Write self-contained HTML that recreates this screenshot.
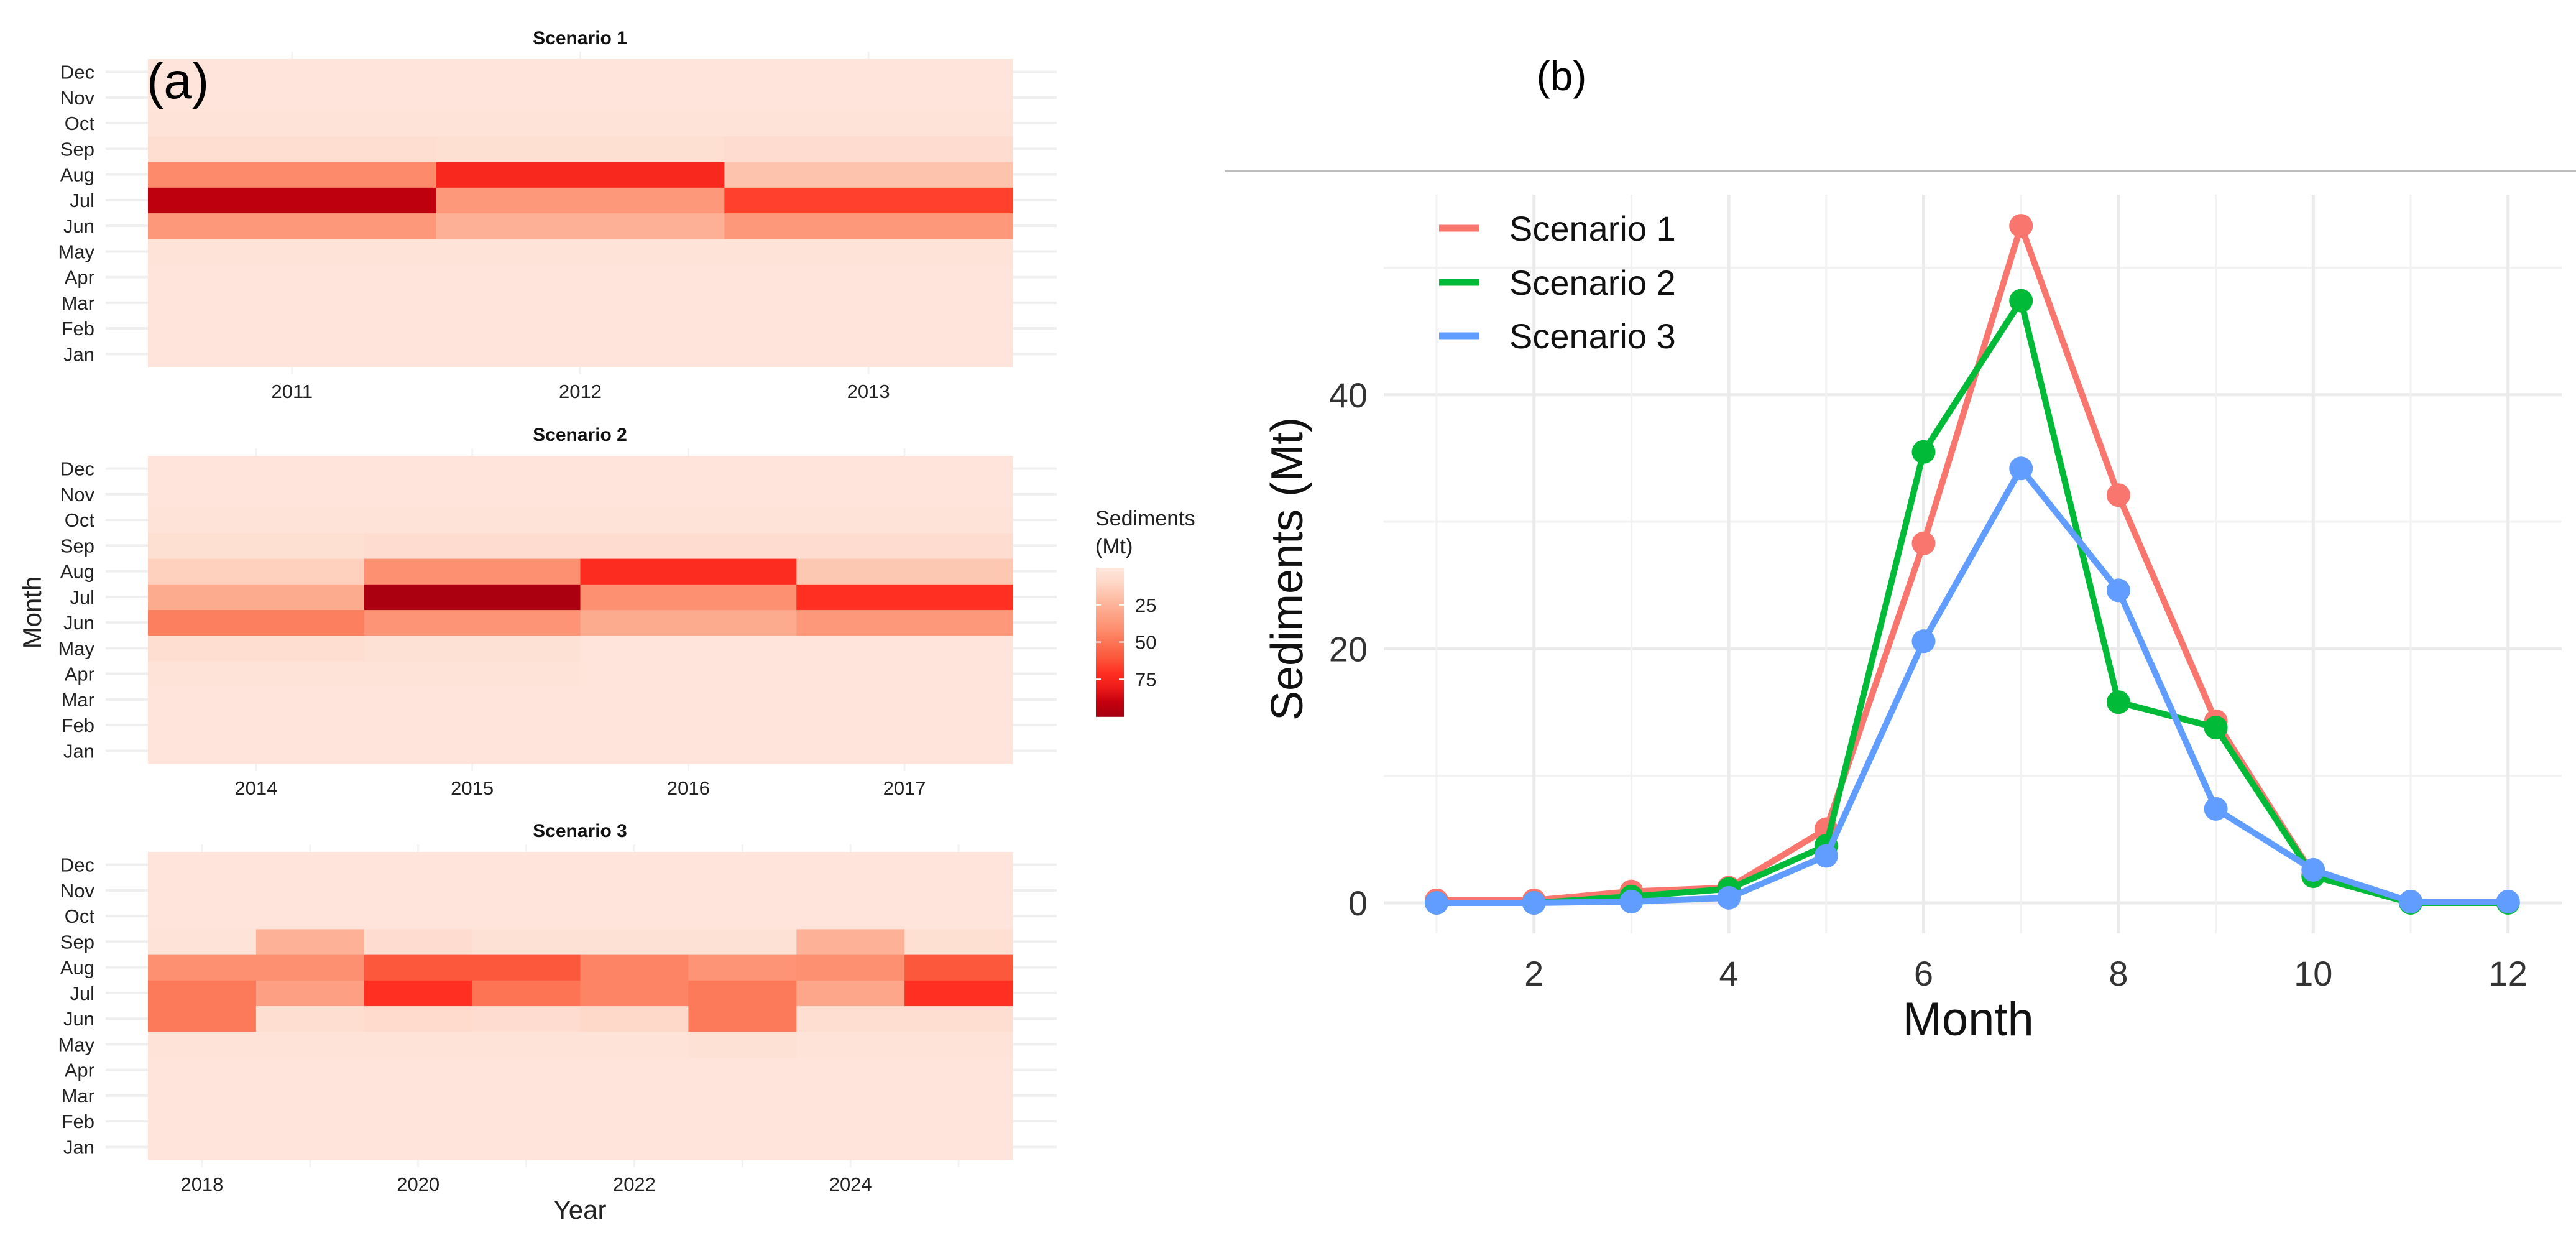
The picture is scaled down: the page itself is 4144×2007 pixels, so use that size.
<!DOCTYPE html>
<html><head><meta charset="utf-8"><style>
html,body{margin:0;padding:0;background:#fff;}
svg text{font-family:"Liberation Sans",sans-serif;}
.n{font-family:"Liberation Sans Narrow","Liberation Sans",sans-serif;}
</style></head><body>
<svg id="fig" width="4144" height="2002" viewBox="0 0 4144 2002" xmlns="http://www.w3.org/2000/svg">
<g id="left"></g>
<g id="right"></g>
</svg>
<script>
const monthNames=["Jan","Feb","Mar","Apr","May","Jun","Jul","Aug","Sep","Oct","Nov","Dec"];
const s1Years=[2011,2012,2013];
const s1Values=[[1,1,1],[1,1,1],[1,1,1],[1,1,1],[2,2,2],[36,26,36],[92,36,66],[42,74,18],[5,4,6],[2,2,2],[1,1,1],[1,1,1]];
const s2Years=[2014,2015,2016,2017];
const s2Values=[[1,1,1,1],[1,1,1,1],[1,1,1,1],[2,2,1,1],[5,3,1,1],[46,38,28,36],[28,98,40,70],[12,40,72,16],[4,6,6,6],[2,2,2,2],[1,1,1,1],[1,1,1,1]];
const s3Years=[2018,2019,2020,2021,2022,2023,2024,2025];
const s3Values=[[1,1,1,1,1,1,1,1],[1,1,1,1,1,1,1,1],[1,1,1,1,1,1,1,1],[1,1,1,1,1,1,1,1],[2,2,2,2,2,3,2,2],[48,5,7,6,8,48,5,5],[48,33,70,50,44,48,30,70],[40,40,60,60,44,38,40,60],[2,25,6,3,3,3,25,4],[1,1,1,1,1,1,1,1],[1,1,1,1,1,1,1,1],[1,1,1,1,1,1,1,1]];
const s3YearLabels=[2018,2020,2022,2024];
const legendTicks=[25,50,75];
const lineMonths=[1,2,3,4,5,6,7,8,9,10,11,12];
const line1=[0.2,0.2,0.9,1.2,5.8,28.3,53.3,32.1,14.3,2.2,0.1,0.1];
const line2=[0.0,0.0,0.5,1.1,4.5,35.5,47.4,15.8,13.8,2.1,0.0,0.0];
const line3=[0.0,0.0,0.1,0.4,3.7,20.6,34.2,24.6,7.4,2.6,0.1,0.1];
const yTicks=[0,20,40];
const xTicks=[2,4,6,8,10,12];
const seriesNames=["Scenario 1","Scenario 2","Scenario 3"];

const NS="http://www.w3.org/2000/svg";
function mk(tag,attrs,parent,txt){const e=document.createElementNS(NS,tag);for(const k in attrs)e.setAttribute(k,attrs[k]);if(txt!==undefined)e.textContent=txt;parent.appendChild(e);return e;}
const stops=[[0,[254,230,220]],[10,[254,214,198]],[20,[253,190,165]],[30,[253,166,138]],[40,[253,144,112]],[50,[252,116,84]],[60,[252,88,60]],[70,[255,48,34]],[80,[238,28,26]],[90,[196,0,14]],[100,[165,0,16]]];
function col(v){v=Math.max(0,Math.min(100,v));for(let i=1;i<stops.length;i++){if(v<=stops[i][0]){const a=stops[i-1],b=stops[i];const t=(v-a[0])/(b[0]-a[0]);const c=a[1].map((x,j)=>Math.round(x+(b[1][j]-x)*t));return `rgb(${c[0]},${c[1]},${c[2]})`;}}return "rgb(165,0,16)";}

const L=document.getElementById('left');
function heat(title,years,vals,top,yearLabels,idx){
  const g=mk('g',{},L);
  
  
  const x0=238,x1=1629,y0=top,y1=top+495;
  const cw=(x1-x0)/years.length,rh=(y1-y0)/12;
  const xS=i=>x0+i*cw, yS=m=>y1-(m+1)*rh;
  for(let m=0;m<12;m++){const yc=yS(m)+rh/2;
    mk('line',{x1:170,x2:1700,y1:yc,y2:yc,stroke:'#efefef','stroke-width':4},g);
    const t=mk('text',{x:152,y:yc+11,'text-anchor':'end','font-size':31,fill:'#222',class:'n'},g,monthNames[m]);
    
    }
  for(let i=0;i<years.length;i++){const xc=xS(i)+cw/2;mk('line',{x1:xc,x2:xc,y1:y0-12,y2:y1+12,stroke:'#f3f3f3','stroke-width':3},g);}
  for(let m=0;m<12;m++)for(let i=0;i<years.length;i++){
    const r=mk('rect',{x:xS(i),y:yS(m),width:cw+0.6,height:rh+0.6,fill:col(vals[m][i])},g);
    
    }
  const tt=mk('text',{x:933,y:top-24,'text-anchor':'middle','font-size':30,'font-weight':'bold',fill:'#111',class:'n'},g,title);
  
  
  (yearLabels||years).forEach(yr=>{const i=years.indexOf(yr);
    const t=mk('text',{x:xS(i)+cw/2,y:y1+50,'text-anchor':'middle','font-size':31,fill:'#222',class:'n'},g,String(yr));
    
    });
}
heat('Scenario 1',s1Years,s1Values,95,null,1);
heat('Scenario 2',s2Years,s2Values,733,null,2);
heat('Scenario 3',s3Years,s3Values,1370,s3YearLabels,3);
let t=mk('text',{x:236,y:158,'font-size':82,fill:'#000'},L,'(a)');


t=mk('text',{x:0,y:0,'font-size':42,fill:'#222',transform:'translate(66,985) rotate(-90)','text-anchor':'middle'},L,'Month');


t=mk('text',{x:933,y:1960,'text-anchor':'middle','font-size':42,fill:'#222',class:'n'},L,'Year');


const lg=mk('g',{},L);


mk('text',{x:1762,y:845,'font-size':34,fill:'#222',class:'n'},lg,'Sediments');
mk('text',{x:1762,y:890,'font-size':34,fill:'#222',class:'n'},lg,'(Mt)');
const cb0=913,cb1=1152,vS=v=>cb0+(v/100)*(cb1-cb0);
for(let v=0;v<100;v+=1){mk('rect',{x:1763,y:vS(v),width:45,height:(cb1-cb0)/100+0.8,fill:col(v)},lg);}
legendTicks.forEach(v=>{mk('line',{x1:1763,x2:1771,y1:vS(v),y2:vS(v),stroke:'#fff','stroke-width':2},lg);mk('line',{x1:1800,x2:1808,y1:vS(v),y2:vS(v),stroke:'#fff','stroke-width':2},lg);
  mk('text',{x:1826,y:vS(v)+11,'font-size':31,fill:'#222',class:'n'},lg,String(v));});

const R=document.getElementById('right');
mk('line',{x1:1970,x2:4144,y1:275,y2:275,stroke:'#bdbdbd','stroke-width':3},R);
t=mk('text',{x:2512,y:145,'font-size':66,fill:'#000','text-anchor':'middle'},R,'(b)');


const px0=2226,px1=4121,py0=313,py1=1501;
const X=m=>2311+(m-1)*156.7, Y=v=>1452-v*20.43;
for(let v=10;v<=50;v+=20)mk('line',{x1:px0,x2:px1,y1:Y(v),y2:Y(v),stroke:'#f2f2f2','stroke-width':3},R);
yTicks.forEach(v=>mk('line',{x1:px0,x2:px1,y1:Y(v),y2:Y(v),stroke:'#ebebeb','stroke-width':5},R));
lineMonths.forEach(m=>mk('line',{x1:X(m),x2:X(m),y1:py0,y2:py1,stroke:m%2?'#f2f2f2':'#ebebeb','stroke-width':m%2?3:5},R));
yTicks.forEach(v=>{const e=mk('text',{x:2200,y:Y(v)+20,'text-anchor':'end','font-size':56,fill:'#333',class:'n'},R,String(v));
  
  });
xTicks.forEach(m=>{const e=mk('text',{x:X(m),y:1585,'text-anchor':'middle','font-size':56,fill:'#333',class:'n'},R,String(m));
  
  });
t=mk('text',{x:X(7)-85,y:1665,'text-anchor':'middle','font-size':76,fill:'#111',class:'n'},R,'Month');


t=mk('text',{x:0,y:0,'font-size':72,fill:'#111','text-anchor':'middle',transform:'translate(2095,915) rotate(-90)'},R,'Sediments (Mt)');


const colors=['#F8766D','#00BA38','#619CFF'];
[line1,line2,line3].forEach((d,k)=>{
  const g=mk('g',{},R);
  
  
  mk('polyline',{points:d.map((v,i)=>X(lineMonths[i])+','+Y(v)).join(' '),fill:'none',stroke:colors[k],'stroke-width':10,'stroke-linejoin':'round'},g);
  d.forEach((v,i)=>{const c=mk('circle',{cx:X(lineMonths[i]),cy:Y(v),r:19,fill:colors[k]},g);
    
    });
});
seriesNames.forEach((n,k)=>{const y=[367,454,540][k];
  const g=mk('g',{},R);
  
  
  mk('line',{x1:2315,x2:2380,y1:y,y2:y,stroke:colors[k],'stroke-width':11},g);
  mk('text',{x:2428,y:y+20,'font-size':56,fill:'#111',class:'n'},g,n);});
</script>
</body></html>
